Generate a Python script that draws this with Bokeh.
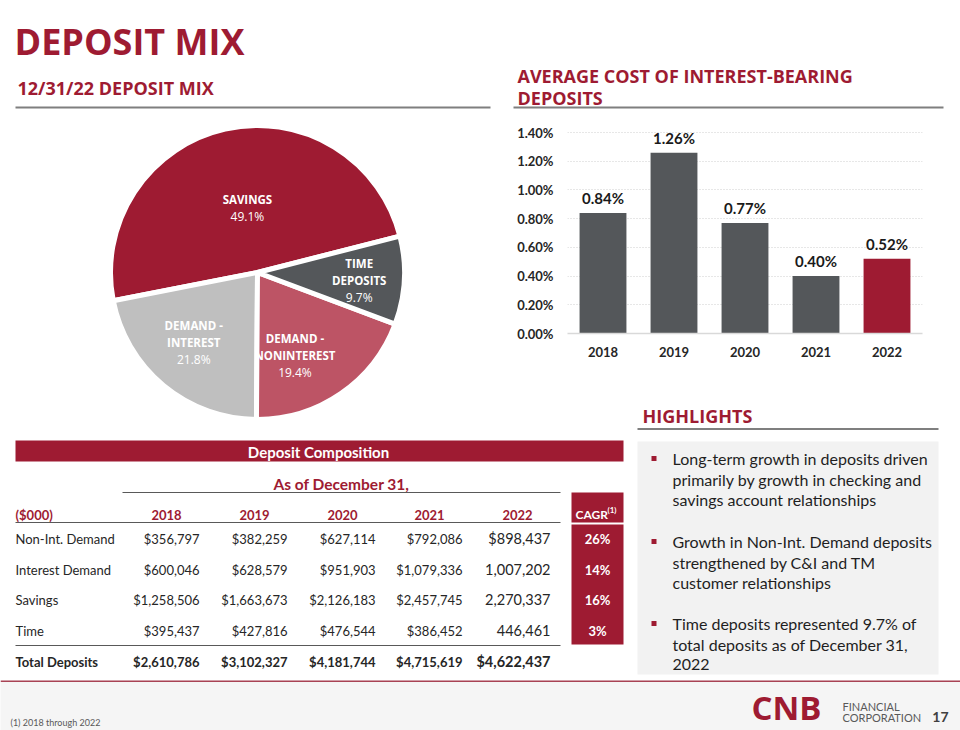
import math
from bokeh.plotting import figure
from bokeh.layouts import row, column
from bokeh.models import Range1d, FactorRange, FixedTicker, PrintfTickFormatter
from bokeh.core.properties import value
from bokeh.embed import file_html
from bokeh.resources import INLINE

# ---------------- data ----------------
pie_names = ["SAVINGS", "DEMAND -\nINTEREST", "DEMAND -\nNONINTEREST", "TIME\nDEPOSITS"]
pie_shares = [49.1, 21.8, 19.4, 9.7]

cost_years = ["2018", "2019", "2020", "2021", "2022"]
cost_values = [0.84, 1.26, 0.77, 0.40, 0.52]
cost_ticks = [0.0, 0.2, 0.4, 0.6, 0.8, 1.0, 1.2, 1.4]

table_years = ["2018", "2019", "2020", "2021", "2022"]
row_names = ["Non-Int. Demand", "Interest Demand", "Savings", "Time"]
non_int_demand = [356797, 382259, 627114, 792086, 898437]
interest_demand = [600046, 628579, 951903, 1079336, 1007202]
savings = [1258506, 1663673, 2126183, 2457745, 2270337]
time_deposits = [395437, 427816, 476544, 386452, 446461]
total_deposits = [2610786, 3102327, 4181744, 4715619, 4622437]
cagr = ["26%", "14%", "16%", "3%"]
dollar_sign_2022 = [True, False, False, False]

highlights = [
    ["Long-term growth in deposits driven", "primarily by growth in checking and",
     "savings account relationships"],
    ["Growth in Non-Int. Demand deposits", "strengthened by C&I and TM",
     "customer relationships"],
    ["Time deposits represented 9.7% of", "total deposits as of December 31,", "2022"],
]

# ---------------- styles ----------------
RED = "#9e1b32"
DARK = "#54575a"
PINK = "#bd5465"
LIGHT = "#bfbfbf"
TXT = "#262626"
pie_colors = [RED, LIGHT, PINK, DARK]
bar_colors = [DARK, DARK, DARK, DARK, RED]


def panel(w, h, bg="white"):
    p = figure(width=w, height=h, x_range=Range1d(0, w), y_range=Range1d(0, h),
               x_axis_location=None, y_axis_location=None, toolbar_location=None,
               output_backend="svg", min_border=0, tools="",
               background_fill_color=bg, border_fill_color=bg)
    p.outline_line_color = None
    p.grid.visible = False
    return p


def txt(p, x, y, s, size, color=TXT, font="Lato", style="normal", align="left",
        baseline="middle"):
    p.text(x=[x], y=[y], text=[s], text_font=value(font), text_font_size=f"{size}px",
           text_font_style=style, text_color=color, text_align=align,
           text_baseline=baseline)


# ---------------- left top: title + pie ----------------
W1, H1 = 500, 430
pl = panel(W1, H1)
Y1 = lambda py: H1 - py
txt(pl, 14, Y1(41), "DEPOSIT MIX", 36, RED, "Open Sans", "bold")
txt(pl, 17, Y1(87), "12/31/22 DEPOSIT MIX", 18, RED, "Open Sans", "bold")
pl.line([15, 490], [Y1(107), Y1(107)], line_color="#7f7f7f", line_width=2)

cx, cy, r = 257, Y1(272), 147
total = sum(pie_shares)
starts, ends = [], []
a = math.radians(14.35)
for s in pie_shares:
    span = 2 * math.pi * s / total
    starts.append(a)
    ends.append(a + span)
    a += span
pl.wedge(x=[cx] * 4, y=[cy] * 4, radius=r, start_angle=starts, end_angle=ends,
         fill_color=pie_colors, line_color="white", line_width=5)

label_r = [65, 95, 91, 102]
label_da = [-3.8, -2.5, -10.2, -1.2]
for i, name in enumerate(pie_names):
    mid = (starts[i] + ends[i]) / 2 + math.radians(label_da[i])
    lx = cx + label_r[i] * math.cos(mid)
    ly = cy + label_r[i] * math.sin(mid)
    lines = name.split("\n")
    n = len(lines) + 1
    step = 17
    for j, ln in enumerate(lines):
        txt(pl, lx, ly - (j - (n - 1) / 2) * step, ln, 11.5, "white", "Open Sans", "bold",
            "center")
    txt(pl, lx, ly - (n - 1 - (n - 1) / 2) * step, f"{pie_shares[i]}%", 12, "white",
        "Open Sans", "normal", "center")

# ---------------- right top header ----------------
prh = panel(460, 110)
X2 = lambda px: px - 500
Y2 = lambda py: 110 - py
txt(prh, X2(517), Y2(75), "AVERAGE COST OF INTEREST-BEARING", 18, RED, "Open Sans", "bold")
txt(prh, X2(517), Y2(97), "DEPOSITS", 18, RED, "Open Sans", "bold")
prh.line([X2(513), X2(943)], [Y2(107), Y2(107)], line_color="#7f7f7f", line_width=2)

# ---------------- bar chart ----------------
pb = figure(width=460, height=260, x_range=FactorRange(*cost_years),
            y_range=Range1d(0, 1.47), toolbar_location=None, output_backend="svg",
            tools="", min_border_left=67, min_border_right=38, min_border_top=12,
            min_border_bottom=37, background_fill_color="white",
            border_fill_color="white")
pb.outline_line_color = None
pb.vbar(x=cost_years, top=cost_values, width=0.66, fill_color=bar_colors, line_color=None)
pb.text(x=cost_years, y=cost_values, text=[f"{v:.2f}%" for v in cost_values],
        y_offset=-15, text_align="center", text_baseline="middle",
        text_font=value("Lato"), text_font_style="bold", text_font_size="15px",
        text_color="#1a1a1a")
pb.yaxis.ticker = FixedTicker(ticks=cost_ticks)
pb.yaxis.formatter = PrintfTickFormatter(format="%.2f%%")
pb.yaxis.axis_line_color = None
pb.yaxis.major_tick_line_color = None
pb.yaxis.minor_tick_line_color = None
pb.yaxis.major_tick_out = 0
pb.yaxis.major_tick_in = 0
pb.yaxis.major_label_standoff = 14
pb.xaxis.axis_line_color = "#d9d9d9"
pb.xaxis.axis_line_width = 1.5
pb.xaxis.major_tick_line_color = None
pb.xaxis.major_tick_out = 0
pb.xaxis.major_tick_in = 0
pb.xaxis.major_label_standoff = 13
for ax in (pb.xaxis, pb.yaxis):
    ax.major_label_text_font = "Lato"
    ax.major_label_text_font_style = "bold"
    ax.major_label_text_font_size = "13px"
    ax.major_label_text_color = TXT
pb.ygrid.ticker = FixedTicker(ticks=cost_ticks)
pb.ygrid.grid_line_color = "#cfcfcf"
pb.ygrid.grid_line_dash = "1 2"
pb.xgrid.visible = False

# ---------------- highlights header ----------------
phh = panel(460, 60)
Y3 = lambda py: 430 - py
txt(phh, X2(642), Y3(415), "HIGHLIGHTS", 18, RED, "Open Sans", "bold")
phh.line([X2(637), X2(938)], [Y3(428.5), Y3(428.5)], line_color="#7f7f7f", line_width=2)

# ---------------- table ----------------
pt = panel(630, 250)
Yt = lambda py: 680 - py
pt.quad(left=[15], right=[623], top=[Yt(440)], bottom=[Yt(461)], fill_color=RED,
        line_color=None)
txt(pt, 318, Yt(451), "Deposit Composition", 15, "white", style="bold", align="center")
txt(pt, 341, Yt(483), "As of December 31,", 15.5, RED, style="bold", align="center")
pt.line([122, 560], [Yt(492), Yt(492)], line_color="#595959", line_width=1.2)

pt.quad(left=[571, 571], right=[623, 623], top=[Yt(492), Yt(524)],
        bottom=[Yt(522), Yt(644)], fill_color=RED, line_color=None)
txt(pt, 575, Yt(514), "CAGR", 12, "white", style="bold")
txt(pt, 607, Yt(509), "(1)", 8, "white", style="bold")

col_right = [199, 287, 375, 462, 550]
txt(pt, 15, Yt(514), "($000)", 13, RED, style="bold")
for k, yr in enumerate(table_years):
    txt(pt, col_right[k] - 33, Yt(514), yr, 13, RED, style="bold", align="center")
pt.line([15, 560], [Yt(522), Yt(522)], line_color="#595959", line_width=1.2)

rows = [non_int_demand, interest_demand, savings, time_deposits]
row_py = [538, 569, 599, 630]
for i, vals in enumerate(rows):
    txt(pt, 15, Yt(row_py[i]), row_names[i], 13)
    for k, v in enumerate(vals):
        last = k == len(vals) - 1
        s = f"{v:,}"
        if not last or dollar_sign_2022[i]:
            s = "$" + s
        txt(pt, col_right[k], Yt(row_py[i]), s, 14.5 if last else 13, align="right")
    txt(pt, 597, Yt(row_py[i]), cagr[i], 13, "white", style="bold", align="center")
pt.line([15, 560], [Yt(645), Yt(645)], line_color="#595959", line_width=1.2)
txt(pt, 15, Yt(661), "Total Deposits", 13, style="bold")
for k, v in enumerate(total_deposits):
    last = k == len(total_deposits) - 1
    txt(pt, col_right[k], Yt(661), f"${v:,}", 14.5 if last else 13, style="bold",
        align="right")

# ---------------- highlights box ----------------
ph = panel(330, 250)
Xh = lambda px: px - 630
ph.quad(left=[Xh(637)], right=[Xh(938)], top=[Yt(441)], bottom=[Yt(674)],
        fill_color="#f2f2f2", line_color=None)
group_py = [458, 541, 623]
ph.scatter(x=[Xh(653.5)] * 3, y=[Yt(g) for g in group_py], marker="square", size=5,
           fill_color=RED, line_color=None)
for g, lines in enumerate(highlights):
    for j, ln in enumerate(lines):
        txt(ph, Xh(672), Yt(group_py[g] + j * 20.5), ln, 16, "#1f1f1f")

# ---------------- footer ----------------
pf = panel(960, 50, bg="#f5f5f5")
Yf = lambda py: 730 - py
pf.line([0, 960], [Yf(680.5), Yf(680.5)], line_color="#a84354", line_width=2)
txt(pf, 10, Yf(722), "(1) 2018 through 2022", 9, "#595959")
txt(pf, 751, Yf(707), "CNB", 33, RED, "Open Sans", "bold")
txt(pf, 842, Yf(706), "FINANCIAL", 11, "#595959")
txt(pf, 842, Yf(717), "CORPORATION", 11, "#595959")
txt(pf, 948, Yf(716), "17", 14, "#404040", style="bold", align="right")

layout = column(
    row(pl, column(row(prh), row(pb), row(phh))),
    row(pt, ph),
    pf,
)

open("out.html", "w").write(file_html(layout, INLINE))
